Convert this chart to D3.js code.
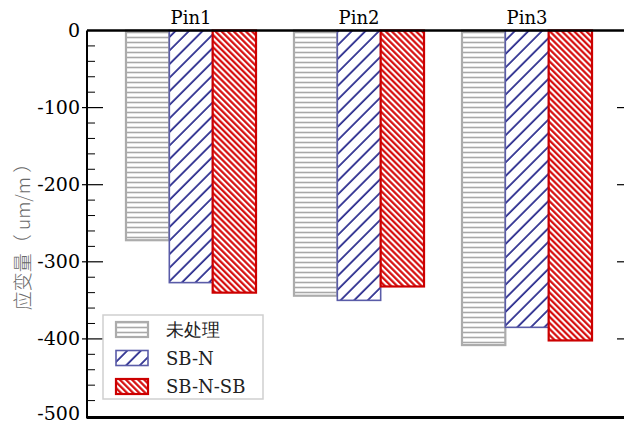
<!DOCTYPE html>
<html><head><meta charset="utf-8">
<script src="https://cdn.jsdelivr.net/npm/d3@7/dist/d3.min.js"></script>
<style>body{margin:0;background:#fff;}svg{display:block;}
</style>
</head><body>
<svg id="chart" width="624" height="425"></svg>
<script>
const categories = ["Pin1", "Pin2", "Pin3"];
const seriesNames = ["未处理", "SB-N", "SB-N-SB"];
const untreated = [-272, -344, -408];
const sbN = [-327, -350, -385];
const sbNsb = [-340, -332, -402];
const yTicks = [0, -100, -200, -300, -400, -500];
const yLabel = "应变量（ um/m ）";

const SERIF = "'DejaVu Serif', serif";
const seriesValues = [untreated, sbN, sbNsb];
const svg = d3.select("#chart");
const L = 87, R = 633, T = 30.5, B = 416;

const y = d3.scaleLinear().domain([-500, 0]).range([B, T]);
const x0 = d3.scaleBand().domain(categories).range([L, 631]).paddingInner(0.226).paddingOuter(0.232);
const x1 = d3.scaleBand().domain(seriesNames).range([0, x0.bandwidth()]).padding(0);

const defs = svg.append("defs");
const pg = defs.append("pattern").attr("id", "pGray").attr("patternUnits", "userSpaceOnUse")
  .attr("width", 10).attr("height", 5);
pg.append("rect").attr("width", 10).attr("height", 5).attr("fill", "#fff");
pg.append("line").attr("x1", 0).attr("x2", 10).attr("y1", 2.5).attr("y2", 2.5)
  .attr("stroke", "#a8a8a8").attr("stroke-width", 1.6);
const pb = defs.append("pattern").attr("id", "pBlue").attr("patternUnits", "userSpaceOnUse")
  .attr("width", 9.6).attr("height", 10).attr("patternTransform", "rotate(45)");
pb.append("rect").attr("width", 9.6).attr("height", 10).attr("fill", "#fff");
pb.append("line").attr("x1", 2).attr("x2", 2).attr("y1", 0).attr("y2", 10)
  .attr("stroke", "#2b2d8e").attr("stroke-width", 1.8);
const pr = defs.append("pattern").attr("id", "pRed").attr("patternUnits", "userSpaceOnUse")
  .attr("width", 4.3).attr("height", 10).attr("patternTransform", "rotate(-45)");
pr.append("rect").attr("width", 4.3).attr("height", 10).attr("fill", "#fff");
pr.append("line").attr("x1", 1.2).attr("x2", 1.2).attr("y1", 0).attr("y2", 10)
  .attr("stroke", "#d40000").attr("stroke-width", 2.1);

const fills = ["url(#pGray)", "url(#pBlue)", "url(#pRed)"];
const strokes = ["#acacac", "#5a5ca8", "#cc0000"];
const strokeW = [2.2, 1.6, 2.2];

const g = svg.append("g");
categories.forEach((c, ci) => {
  seriesNames.forEach((s, si) => {
    const v = seriesValues[si][ci];
    g.append("rect")
      .attr("x", x0(c) + x1(s))
      .attr("y", y(0))
      .attr("width", x1.bandwidth())
      .attr("height", y(v) - y(0))
      .attr("fill", fills[si])
      .attr("stroke", strokes[si])
      .attr("stroke-width", strokeW[si]);
  });
});

svg.append("line").attr("x1", L).attr("x2", R).attr("y1", T).attr("y2", T)
  .attr("stroke", "#000").attr("stroke-width", 2.5);
svg.append("line").attr("x1", L).attr("x2", R).attr("y1", B + 1.5).attr("y2", B + 1.5)
  .attr("stroke", "#000").attr("stroke-width", 2.8);
svg.append("line").attr("x1", L).attr("x2", L).attr("y1", T).attr("y2", B + 2.5)
  .attr("stroke", "#000").attr("stroke-width", 2);
svg.append("line").attr("x1", R).attr("x2", R).attr("y1", T).attr("y2", B + 2.5)
  .attr("stroke", "#000").attr("stroke-width", 2);

const minor = d3.range(-480, 0, 20).filter(v => v % 100 !== 0);
svg.append("g").selectAll("line").data(minor).join("line")
  .attr("x1", L).attr("x2", L + 8).attr("y1", d => y(d)).attr("y2", d => y(d))
  .attr("stroke", "#000").attr("stroke-width", 1);
svg.append("g").selectAll("line").data(minor).join("line")
  .attr("x1", R).attr("x2", R - 8).attr("y1", d => y(d)).attr("y2", d => y(d))
  .attr("stroke", "#000").attr("stroke-width", 1);
const major = yTicks.filter(v => v !== 0 && v !== -500);
svg.append("g").selectAll("line").data(major).join("line")
  .attr("x1", L - 5).attr("x2", L + 16).attr("y1", d => y(d)).attr("y2", d => y(d))
  .attr("stroke", "#000").attr("stroke-width", 1.2);
svg.append("g").selectAll("line").data(major).join("line")
  .attr("x1", R).attr("x2", R - 16).attr("y1", d => y(d)).attr("y2", d => y(d))
  .attr("stroke", "#000").attr("stroke-width", 1.2);

svg.append("g").selectAll("text").data(yTicks).join("text")
  .style("font-family", SERIF)
  .attr("x", 80).attr("y", d => y(d) - (d === -500 ? 2 : 0)).attr("dy", "0.33em")
  .attr("text-anchor", "end")
  .style("font-size", "19px")
  .attr("fill", "#000").text(d => d);

svg.append("g").selectAll("text").data(categories).join("text")
  .style("font-family", SERIF)
  .attr("x", d => x0(d) + x0.bandwidth() / 2).attr("y", 24)
  .attr("text-anchor", "middle")
  .style("font-size", "18px")
  .attr("fill", "#000").text(d => d);

svg.append("text")
  .attr("transform", "translate(30,232) rotate(-90)")
  .attr("text-anchor", "middle")
  .style("font-family", "'Noto Sans CJK SC', sans-serif")
  .style("font-weight", 300)
  .style("font-size", "19px").attr("fill", "#6a6a6a").text(yLabel);

const lg = svg.append("g");
lg.append("rect").attr("x", 103).attr("y", 315).attr("width", 160).attr("height", 84)
  .attr("fill", "#fff").attr("stroke", "#cfcfcf").attr("stroke-width", 1.5);
seriesNames.forEach((s, i) => {
  const yy = 322 + i * 28.5;
  lg.append("rect").attr("x", 116).attr("y", yy).attr("width", 32).attr("height", 15)
    .attr("fill", fills[i]).attr("stroke", strokes[i]).attr("stroke-width", strokeW[i]);
  lg.append("text").attr("x", 166).attr("y", yy + 8).attr("dy", "0.36em")
    .style("font-family", SERIF)
    .style("font-size", "18px").attr("fill", "#222").text(s);
});
</script>
</body></html>
